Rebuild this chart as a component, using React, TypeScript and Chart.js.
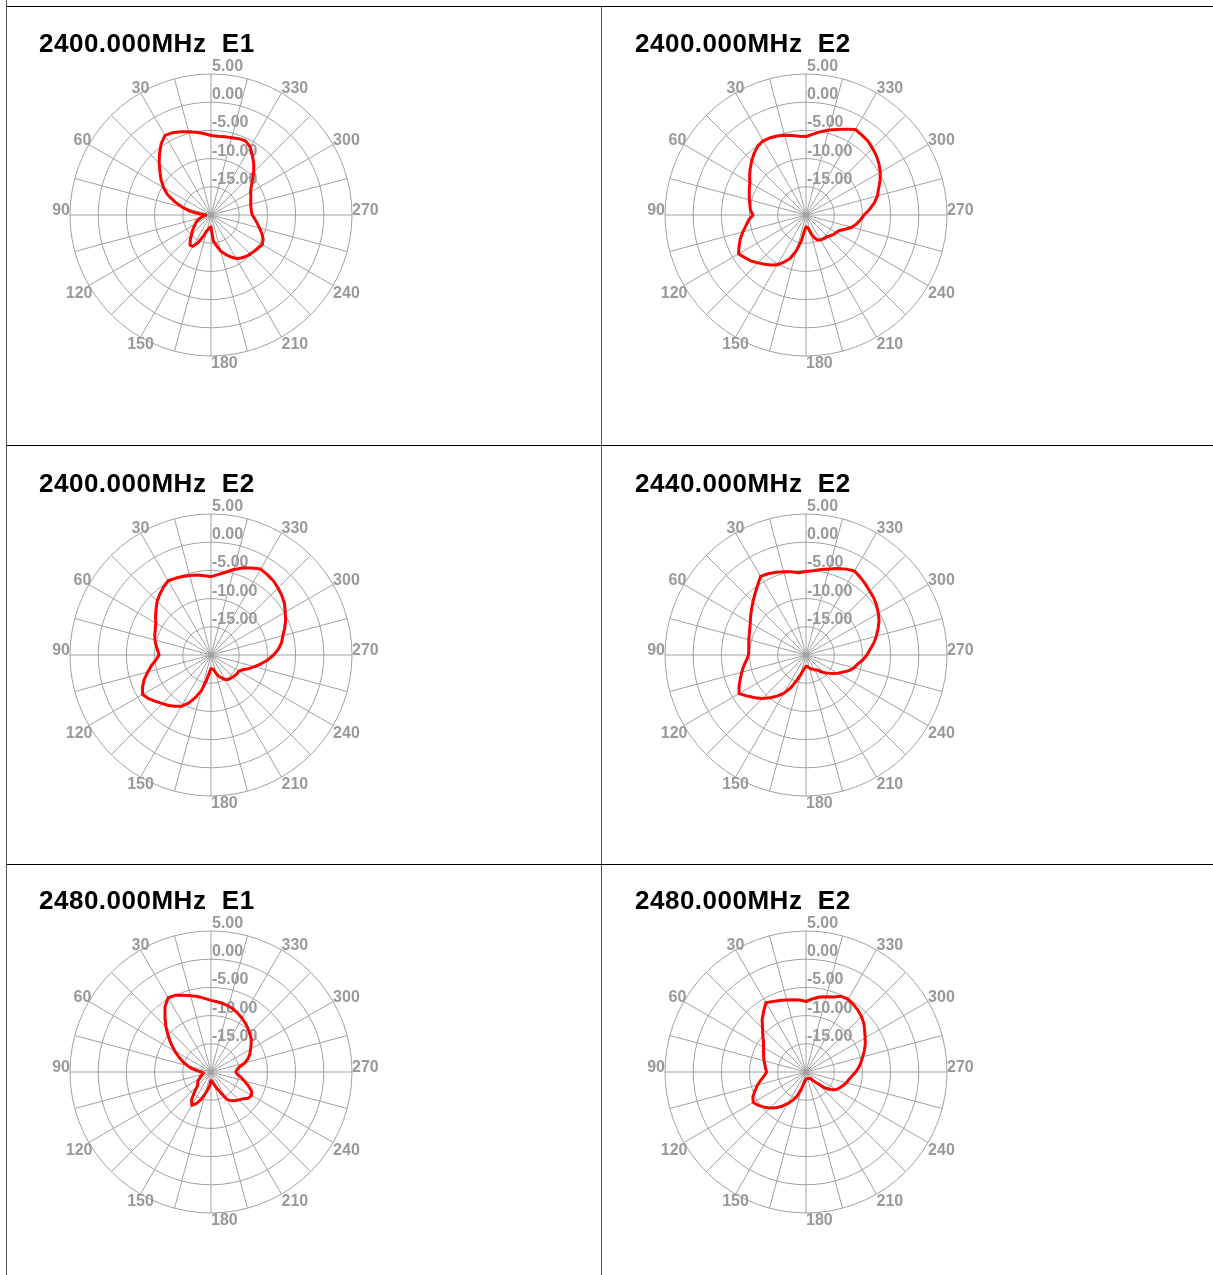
import React, { useEffect, useRef } from 'react';
import { Chart, registerables } from 'chart.js';

Chart.register(...registerables);

// Angles (degrees, counter-clockwise from top) at which the pattern was read
const ANGLES = [
  0, 5, 10, 15, 20, 25, 30, 35, 40, 45, 50, 55, 60, 65, 70, 75, 80, 85,
  90, 95, 100, 105, 110, 115, 120, 125, 130, 135, 140, 145, 150, 155, 160, 165, 170, 175,
  180, 185, 190, 195, 200, 205, 210, 215, 220, 225, 230, 235, 240, 245, 250, 255, 260, 265,
  270, 275, 280, 285, 290, 295, 300, 305, 310, 315, 320, 325, 330, 335, 340, 345, 350, 355,
];

// Angle tick labels and radial tick labels
const ANGLE_LABELS = [30, 60, 90, 120, 150, 180, 210, 240, 270, 300, 330];
const RADIAL_TICKS = [5, 0, -5, -10, -15];
const R_MIN = -20;
const R_MAX = 5;

// Gain (dB) at each angle of ANGLES
const gain2400E1 = [
  -5.9, -5.5, -5.1, -4.7, -4.3, -3.9, -3.7, -4.6, -5.8, -7.0, -8.2, -9.2, -10.3, -11.5, -13.2, -14.8, -16.3, -18.0,
  -19.1, -18.9, -18.6, -18.1, -17.6, -17.1, -16.8, -16.3, -15.7, -15.1, -14.3, -13.5, -13.6, -14.6, -16.0, -17.1, -17.5, -17.8,
  -17.9, -15.4, -14.5, -13.4, -12.6, -11.8, -11.1, -10.7, -10.4, -10.2, -10.0, -9.8, -9.5, -9.8, -10.4, -11.1, -11.7, -12.2,
  -12.7, -12.8, -12.8, -12.7, -12.5, -12.2, -11.9, -11.3, -10.4, -9.3, -8.2, -7.2, -6.1, -5.5, -5.6, -5.8, -5.9, -6.0,
];

const gain2400E2a = [
  -6.1, -6.0, -5.7, -5.35, -5.1, -4.9, -4.8, -5.1, -5.7, -6.4, -7.1, -7.8, -8.5, -8.9, -9.3, -9.6, -9.9, -10.1,
  -10.6, -9.8, -9.2, -8.4, -7.6, -6.9, -6.2, -6.8, -7.3, -8.0, -8.6, -9.2, -9.8, -10.8, -11.8, -13.5, -15.4, -17.3,
  -17.9, -17.8, -17.6, -16.6, -15.7, -15.1, -14.9, -14.8, -14.7, -14.6, -14.3, -14.0, -13.8, -13.5, -12.6, -11.6, -10.9, -10.3,
  -9.7, -8.7, -7.7, -6.9, -6.3, -5.5, -4.8, -4.2, -3.7, -3.3, -2.9, -2.7, -2.5, -3.2, -3.85, -4.4, -5.0, -5.6,
];

const gain2400E2b = [
  -6.1, -5.9, -5.6, -5.4, -5.2, -5.0, -4.8, -5.3, -5.9, -6.5, -7.3, -8.0, -8.7, -9.1, -9.4, -9.7, -10.1, -10.5,
  -10.8, -10.2, -9.3, -8.4, -7.4, -6.6, -6.0, -6.5, -7.2, -7.8, -8.3, -8.9, -9.5, -10.6, -12.0, -13.5, -15.5, -16.9,
  -17.6, -17.5, -17.4, -16.7, -16.0, -15.5, -15.0, -14.7, -14.6, -14.5, -14.4, -14.3, -14.3, -13.8, -12.9, -12.0, -11.0, -9.9,
  -8.9, -8.0, -7.3, -6.8, -6.1, -5.4, -4.8, -4.1, -3.6, -3.2, -2.8, -2.6, -2.4, -3.0, -3.6, -4.3, -5.1, -5.7,
];

const gain2440E2 = [
  -5.2, -5.35, -5.0, -4.7, -4.4, -4.1, -3.9, -5.0, -5.9, -6.7, -7.4, -8.0, -8.6, -9.0, -9.3, -9.5, -9.7, -9.8,
  -9.8, -9.4, -8.8, -8.2, -7.6, -6.9, -6.3, -7.3, -8.2, -9.1, -10.1, -11.1, -12.2, -13.6, -15.2, -16.4, -17.3, -17.7,
  -18.0, -18.0, -17.8, -17.6, -17.4, -17.2, -17.0, -16.8, -16.3, -15.6, -15.0, -14.3, -13.5, -12.8, -11.9, -11.2, -10.7, -9.9,
  -9.2, -8.6, -7.8, -7.1, -6.4, -5.7, -5.2, -4.7, -4.3, -4.0, -3.6, -3.2, -2.8, -3.2, -3.7, -4.2, -4.6, -5.0,
];

const gain2480E1 = [
  -7.3, -6.9, -6.4, -6.0, -5.5, -5.0, -4.8, -5.8, -7.3, -8.7, -10.1, -11.4, -12.6, -13.7, -14.7, -15.7, -16.6, -17.6,
  -18.3, -18.6, -18.6, -18.4, -18.2, -17.9, -17.6, -17.2, -16.9, -16.7, -15.5, -14.0, -13.2, -13.8, -14.8, -16.0, -16.9, -17.6,
  -18.5, -18.4, -18.1, -17.6, -16.9, -16.0, -14.4, -13.8, -13.4, -13.0, -12.6, -11.9, -11.7, -12.1, -13.0, -13.9, -14.6, -15.3,
  -15.6, -15.4, -14.9, -13.8, -13.0, -12.4, -11.9, -11.3, -10.7, -10.3, -9.85, -9.4, -9.0, -8.6, -8.2, -7.9, -7.7, -7.5,
];

const gain2480E2 = [
  -7.5, -7.2, -7.0, -6.8, -6.5, -6.2, -5.8, -6.9, -7.9, -9.1, -10.0, -10.8, -11.3, -11.7, -12.0, -12.3, -12.6, -12.8,
  -13.0, -12.6, -11.9, -11.1, -10.4, -9.6, -9.2, -9.7, -10.3, -11.0, -11.7, -12.6, -13.5, -14.5, -15.5, -16.9, -18.1, -18.5,
  -18.7, -18.8, -18.8, -18.8, -18.8, -18.7, -18.6, -18.6, -18.0, -17.2, -15.6, -14.5, -13.8, -13.4, -13.0, -12.6, -12.3, -11.8,
  -11.2, -10.6, -10.1, -9.6, -9.0, -8.4, -7.9, -7.3, -6.6, -6.1, -5.7, -5.35, -5.1, -5.2, -5.85, -6.2, -6.5, -7.0,
];

const PANELS = [
  { title: '2400.000MHz  E1', values: gain2400E1 },
  { title: '2400.000MHz  E2', values: gain2400E2a },
  { title: '2400.000MHz  E2', values: gain2400E2b },
  { title: '2440.000MHz  E2', values: gain2440E2 },
  { title: '2480.000MHz  E1', values: gain2480E1 },
  { title: '2480.000MHz  E2', values: gain2480E2 },
];

// layout
const COL_CENTER_X = [211, 806];
const ROW_CENTER_Y = [215, 655, 1072];
const TITLE_LEFT = [39, 635];
const TITLE_TOP = [30, 470, 887];
const CANVAS = 400;
const PAD = 59;
const GRID_COLOR = '#a0a0a0';
const TEXT_COLOR = '#999999';
const LABEL_FONT = 'bold 16px "Liberation Sans", Arial, sans-serif';

const N = ANGLES.length;
// Chart.js radar goes clockwise; the reference goes counter-clockwise.
const chartIndexToAngleIndex = (i: number) => (N - i) % N;

const textPlugin = {
  id: 'polarText',
  beforeDatasetsDraw(chart: any) {
    const scale = chart.scales.r;
    const ctx = chart.ctx as CanvasRenderingContext2D;
    const R = scale.drawingArea;
    ctx.save();
    ctx.font = LABEL_FONT;
    ctx.fillStyle = TEXT_COLOR;
    ctx.textAlign = 'left';
    ctx.textBaseline = 'alphabetic';
    for (const a of ANGLE_LABELS) {
      const angleIdx = ANGLES.indexOf(a);
      const chartIdx = (N - angleIdx) % N;
      const p = scale.getPointPosition(chartIdx, R);
      const text = String(a);
      const w = ctx.measureText(text).width;
      const rad = (a * Math.PI) / 180;
      const s = Math.sin(rad);
      const c = Math.cos(rad);
      const x = p.x - w * Math.max(0, s);
      const y = c >= -0.01 ? p.y : p.y + 12;
      ctx.fillText(text, x, y);
    }
    for (const t of RADIAL_TICKS) {
      const d = scale.getDistanceFromCenterForValue(t);
      ctx.fillText(t.toFixed(2), scale.xCenter + 1, scale.yCenter - d - 3);
    }
    ctx.restore();
  },
};

function PolarPanel({ values, left, top }: { values: number[]; left: number; top: number }) {
  const ref = useRef<HTMLCanvasElement | null>(null);
  useEffect(() => {
    if (!ref.current) return;
    const labels = ANGLES.map((_, i) => String(ANGLES[chartIndexToAngleIndex(i)]));
    const data = ANGLES.map((_, i) => values[chartIndexToAngleIndex(i)]);
    const chart = new Chart(ref.current, {
      type: 'radar',
      data: {
        labels,
        datasets: [
          {
            data,
            borderColor: '#ff0000',
            borderWidth: 3,
            borderJoinStyle: 'round',
            pointRadius: 0,
            pointHoverRadius: 0,
            fill: false,
            tension: 0,
          },
        ],
      },
      options: {
        responsive: false,
        animation: false,
        devicePixelRatio: 1,
        events: [],
        layout: { padding: PAD },
        plugins: { legend: { display: false }, tooltip: { enabled: false } },
        scales: {
          r: {
            min: R_MIN,
            max: R_MAX,
            ticks: { display: false, stepSize: 5 },
            pointLabels: { display: false },
            grid: { color: GRID_COLOR, lineWidth: 1, circular: false },
            angleLines: {
              display: true,
              color: GRID_COLOR,
              lineWidth: (ctx: any) => (ctx.index % 3 === 0 ? 1 : 0),
            },
          },
        },
      } as any,
      plugins: [textPlugin],
    });
    return () => chart.destroy();
  }, [values]);
  return (
    <canvas
      ref={ref}
      width={CANVAS}
      height={CANVAS}
      style={{ position: 'absolute', left, top, width: CANVAS, height: CANVAS }}
    />
  );
}

export default function App() {
  const lineV = '#555555';
  const lineH = '#000000';
  return (
    <div
      style={{
        position: 'absolute',
        left: 0,
        top: 0,
        width: 1213,
        height: 1275,
        overflow: 'hidden',
        background: '#ffffff',
      }}
    >
      <div style={{ position: 'absolute', left: 6, top: 0, width: 1, height: 1275, background: lineV }} />
      <div style={{ position: 'absolute', left: 601, top: 6, width: 1, height: 1269, background: lineV }} />
      <div style={{ position: 'absolute', left: 7, top: 6, width: 1206, height: 1, background: lineH }} />
      <div style={{ position: 'absolute', left: 7, top: 445, width: 1206, height: 1, background: lineH }} />
      <div style={{ position: 'absolute', left: 7, top: 864, width: 1206, height: 1, background: lineH }} />
      {PANELS.map((p, i) => {
        const col = i % 2;
        const row = Math.floor(i / 2);
        return (
          <React.Fragment key={i}>
            <PolarPanel
              values={p.values}
              left={COL_CENTER_X[col] - CANVAS / 2}
              top={ROW_CENTER_Y[row] - CANVAS / 2}
            />
            <div
              style={{
                position: 'absolute',
                left: TITLE_LEFT[col],
                top: TITLE_TOP[row],
                font: 'bold 26px "Liberation Sans", Arial, sans-serif',
                lineHeight: '26px',
                letterSpacing: '0.5px',
                whiteSpace: 'pre',
                color: '#000',
              }}
            >
              {p.title}
            </div>
          </React.Fragment>
        );
      })}
    </div>
  );
}
